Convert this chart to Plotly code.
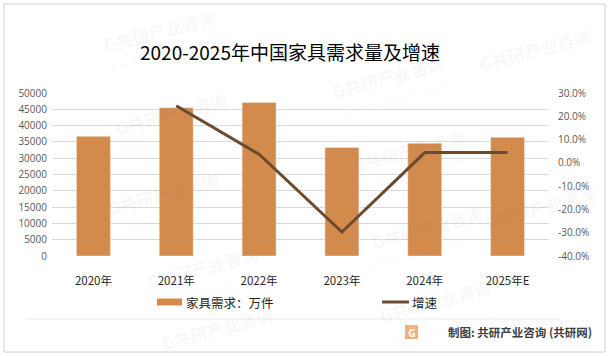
import plotly.graph_objects as go

years = ["2020年", "2021年", "2022年", "2023年", "2024年", "2025年E"]
demand = [36700, 45500, 47100, 33300, 34550, 36400]
growth_years = ["2021年", "2022年", "2023年", "2024年", "2025年E"]
growth = [24.5, 3.7, -29.7, 4.4, 4.4]
left_ticks = [0, 5000, 10000, 15000, 20000, 25000, 30000, 35000, 40000, 45000, 50000]
right_ticks = [-40, -30, -20, -10, 0, 10, 20, 30]

BAR = "#D38B4D"
LINE = "#6B4A2E"
W, H = 609, 356
L, R, T, B = 52, 60, 93, 100
PW, PH = W - L - R, H - T - B

def px(x):
    return (x - L) / PW

def py(y):
    return (H - B - y) / PH

fig = go.Figure()
fig.add_trace(go.Bar(x=years, y=demand, marker_color=BAR, name="家具需求：万件",
                     yaxis="y", showlegend=False, hoverinfo="skip"))
fig.add_trace(go.Scatter(x=growth_years, y=growth, mode="lines", name="增速",
                         line=dict(color=LINE, width=3), yaxis="y2", showlegend=False,
                         hoverinfo="skip"))

tickfont = dict(family="Open Sans, Noto Sans, sans-serif", size=10, color="#595959")
fig.update_layout(
    width=W, height=H,
    margin=dict(l=L, r=R, t=T, b=B),
    paper_bgcolor="white", plot_bgcolor="white",
    bargap=0.59,
    xaxis=dict(type="category", showgrid=False, showline=False, zeroline=False,
               ticks="outside", ticklen=14, tickcolor="rgba(0,0,0,0)",
               tickfont=dict(family="Noto Sans CJK SC, sans-serif", size=11.5, color="#262626")),
    yaxis=dict(range=[0, 50000], tickvals=left_ticks, ticktext=[str(v) for v in left_ticks],
               showgrid=True, gridcolor="#D9D9D9", gridwidth=1, zeroline=False,
               showline=False, tickfont=tickfont, ticklabelstandoff=4),
    yaxis2=dict(range=[-40, 30], tickvals=right_ticks,
                ticktext=[f"{v:.1f}%" for v in right_ticks],
                overlaying="y", side="right", showgrid=False, zeroline=False,
                showline=False, tickfont=tickfont, ticklabelstandoff=8),
    font=dict(family="Noto Sans CJK SC, sans-serif"),
)

shapes = [
    # outer border
    dict(type="rect", xref="paper", yref="paper", x0=px(4), x1=px(605), y0=py(352), y1=py(4),
         line=dict(color="#D0D0D0", width=1), fillcolor="rgba(0,0,0,0)", layer="below"),
    # legend swatches
    dict(type="rect", xref="paper", yref="paper", x0=px(157), x1=px(182), y0=py(305.5), y1=py(298.5),
         line=dict(width=0), fillcolor=BAR),
    dict(type="line", xref="paper", yref="paper", x0=px(382), x1=px(409), y0=py(302), y1=py(302),
         line=dict(color=LINE, width=3)),
    # separator
    dict(type="line", xref="paper", yref="paper", x0=px(25), x1=px(560), y0=py(319), y1=py(319),
         line=dict(color="#EAEAEA", width=1)),
    # logo
    dict(type="rect", xref="paper", yref="paper", x0=px(405), x1=px(418), y0=py(339), y1=py(325),
         line=dict(width=0), fillcolor="#F3A15F", opacity=0.85),
]
fig.update_layout(shapes=shapes)

annotations = [
    dict(text="2020-2025年中国家具需求量及增速", x=px(290), y=py(52), xref="paper", yref="paper",
         showarrow=False, xanchor="center", yanchor="middle",
         font=dict(family="Noto Sans CJK SC, sans-serif", size=19, color="#000000")),
    dict(text="家具需求：万件", x=px(184), y=py(302), xref="paper", yref="paper",
         showarrow=False, xanchor="left", yanchor="middle",
         font=dict(family="Noto Sans CJK SC, sans-serif", size=12.5, color="#262626")),
    dict(text="增速", x=px(410), y=py(302), xref="paper", yref="paper",
         showarrow=False, xanchor="left", yanchor="middle",
         font=dict(family="Noto Sans CJK SC, sans-serif", size=12.5, color="#262626")),
    dict(text="<b>制图: 共研产业咨询 (共研网)</b>", x=px(594), y=py(332), xref="paper", yref="paper",
         showarrow=False, xanchor="right", yanchor="middle",
         font=dict(family="Noto Sans CJK SC, sans-serif", size=11.5, color="#404040")),
    dict(text="<b>G</b>", x=px(411.5), y=py(332), xref="paper", yref="paper",
         showarrow=False, xanchor="center", yanchor="middle",
         font=dict(family="Noto Sans, sans-serif", size=11, color="white")),
]

# faint watermarks
wm_main = [(159, 30), (388, 77), (535, 50), (171, 113), (408, 150), (163, 193),
           (427, 227), (540, 207), (202, 267), (435, 300), (217, 328)]
wm_url = [(163, 54), (396, 99), (175, 137), (408, 174), (178, 215), (423, 251),
          (210, 290), (447, 326)]
for x, y in wm_main:
    annotations.append(dict(text="<b>G共研产业咨询</b>", x=px(x), y=py(y), xref="paper", yref="paper",
                            showarrow=False, xanchor="center", yanchor="middle", textangle=-15,
                            font=dict(family="Noto Sans CJK SC, sans-serif", size=17,
                                      color="rgba(120,120,120,0.06)")))
for x, y in wm_url:
    annotations.append(dict(text="w w w . g o n y n . c o m", x=px(x), y=py(y), xref="paper", yref="paper",
                            showarrow=False, xanchor="center", yanchor="middle", textangle=-15,
                            font=dict(family="Noto Sans, sans-serif", size=10,
                                      color="rgba(120,120,120,0.06)")))
fig.update_layout(annotations=annotations)

fig.write_html("out.html", config={"displayModeBar": False},
               post_script="document.body.style.margin='0px';document.body.style.overflow='hidden';")
